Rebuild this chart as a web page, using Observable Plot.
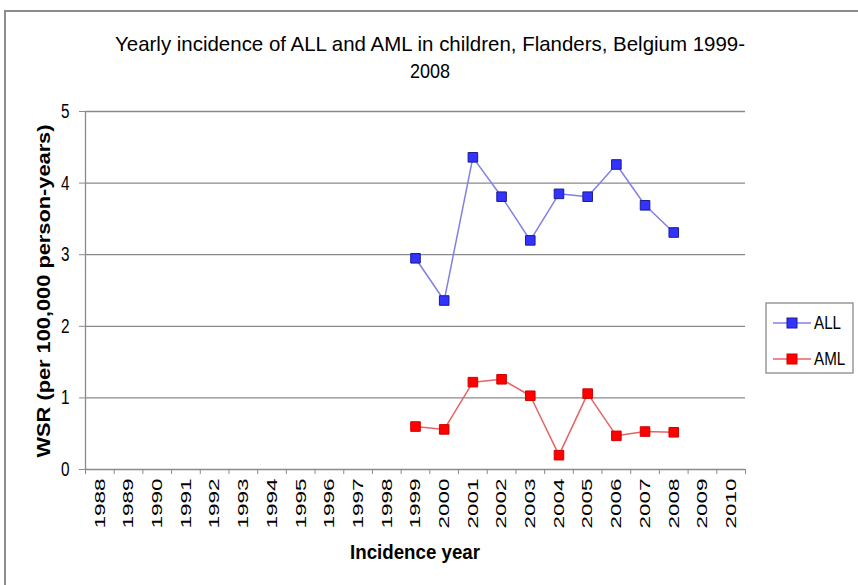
<!DOCTYPE html>
<html><head><meta charset="utf-8">
<script src="https://cdn.jsdelivr.net/npm/d3@7"></script>
<script src="https://cdn.jsdelivr.net/npm/@observablehq/plot@0.6"></script>
<style>
body{margin:0;background:#fff;}
#frame{position:absolute;left:4px;top:10px;width:900px;height:620px;border:2px solid #8c8c8c;box-sizing:border-box;}
#chart{position:absolute;left:0;top:0;}
</style></head><body>
<div id="frame"></div><div id="chart"></div>
<script>
const axisYears = [1988,1989,1990,1991,1992,1993,1994,1995,1996,1997,1998,1999,2000,2001,2002,2003,2004,2005,2006,2007,2008,2009,2010];
const dataYears = [1999,2000,2001,2002,2003,2004,2005,2006,2007,2008];
const allValues = [2.95,2.36,4.36,3.81,3.2,3.85,3.81,4.26,3.69,3.31];
const amlValues = [0.6,0.56,1.22,1.26,1.03,0.2,1.06,0.47,0.53,0.52];
const yTicks = [0,1,2,3,4,5];
const titleLines = ["Yearly incidence of ALL and AML in children, Flanders, Belgium 1999-","2008"];
const series = [{name:"ALL", values:allValues, line:"#8080e6", fill:"#3333ff", stroke:"#1c1c8c"},
                {name:"AML", values:amlValues, line:"#e46464", fill:"#ff0000", stroke:"#d00000"}];

const rows = series.flatMap(s => dataYears.map((yr,i)=>({series:s.name, year:yr, value:s.values[i]})));
const boundaries = axisYears.map(y=>y-0.5).concat([axisYears[axisYears.length-1]+0.5]);
const xDomain = [boundaries[0], boundaries[boundaries.length-1]];
const font = "Liberation Sans, Arial, sans-serif";
const axisColor = "#8a8a8a";

const marks = [
  Plot.gridY(yTicks.slice(1), {stroke:axisColor, strokeOpacity:1, strokeWidth:1.3}),
  Plot.ruleY([0], {stroke:axisColor, strokeWidth:1.3}),
  Plot.ruleX([xDomain[0]], {stroke:axisColor, strokeWidth:1.3}),
  Plot.axisY(yTicks, {tickSize:6, tickPadding:10, stroke:axisColor, fill:"#000", fontSize:17, tickFormat:d=>String(d), label:null}),
  Plot.axisX(boundaries, {tickSize:5, stroke:axisColor, tickFormat:()=>"", label:null}),
  Plot.axisX(axisYears, {tickSize:0, tickPadding:9, tickRotate:-90, fill:"#000", fontSize:15, tickFormat:d=>String(d), label:null})
];
for (const s of series) {
  const d = rows.filter(r=>r.series===s.name);
  marks.push(Plot.line(d, {x:"year", y:"value", stroke:s.line, strokeWidth:1.5}));
  marks.push(Plot.dot(d, {x:"year", y:"value", symbol:"square", r:5.4, fill:s.fill, stroke:s.stroke, strokeWidth:1}));
}

const plot = Plot.plot({
  width:858, height:585,
  marginTop:111, marginBottom:116, marginLeft:85, marginRight:113,
  style:{fontFamily:font, background:"transparent", overflow:"visible"},
  x:{type:"linear", domain:xDomain},
  y:{domain:[0,5]},
  marks
});
const svg = d3.select(plot);
svg.selectAll("[aria-label='x-axis tick label'] text").attr("textLength",50).attr("lengthAdjust","spacingAndGlyphs");
svg.selectAll("[aria-label='y-axis tick label'] text").attr("transform", function(){ return (this.getAttribute("transform")||"") + " scale(0.9,1.2)"; });

// title
svg.append("text").attr("transform","translate(430,51) scale(1,1.15)").attr("text-anchor","middle").attr("font-size",18).attr("font-family",font)
  .attr("textLength",630).attr("lengthAdjust","spacingAndGlyphs").text(titleLines[0]);
svg.append("text").attr("transform","translate(430,78) scale(1,1.15)").attr("text-anchor","middle").attr("font-size",18).attr("font-family",font)
  .text(titleLines[1]);
// axis titles
svg.append("text").attr("transform","translate(50,291) rotate(-90)").attr("text-anchor","middle").attr("font-size",19)
  .attr("font-weight","bold").attr("font-family",font).attr("textLength",333).attr("lengthAdjust","spacingAndGlyphs")
  .text("WSR (per 100,000 person-years)");
svg.append("text").attr("transform","translate(415,559) scale(1,1.2)").attr("text-anchor","middle").attr("font-size",16.5)
  .attr("font-weight","bold").attr("font-family",font).attr("textLength",130).attr("lengthAdjust","spacingAndGlyphs").text("Incidence year");
// legend
const lg = svg.append("g");
lg.append("rect").attr("x",766).attr("y",303).attr("width",87).attr("height",70).attr("fill","#fff").attr("stroke",axisColor).attr("stroke-width",1.3);
series.forEach((s,i)=>{
  const cy = 323 + i*36;
  lg.append("line").attr("x1",773).attr("x2",811).attr("y1",cy).attr("y2",cy).attr("stroke",s.line).attr("stroke-width",1.5);
  lg.append("rect").attr("x",787).attr("y",cy-5).attr("width",10).attr("height",10).attr("fill",s.fill).attr("stroke",s.stroke);
  lg.append("text").attr("transform",`translate(814,${cy+6}) scale(0.95,1.15)`).attr("text-anchor","start").attr("font-size",16).attr("font-family",font).text(s.name);
});
document.getElementById("chart").appendChild(plot);
</script></body></html>
